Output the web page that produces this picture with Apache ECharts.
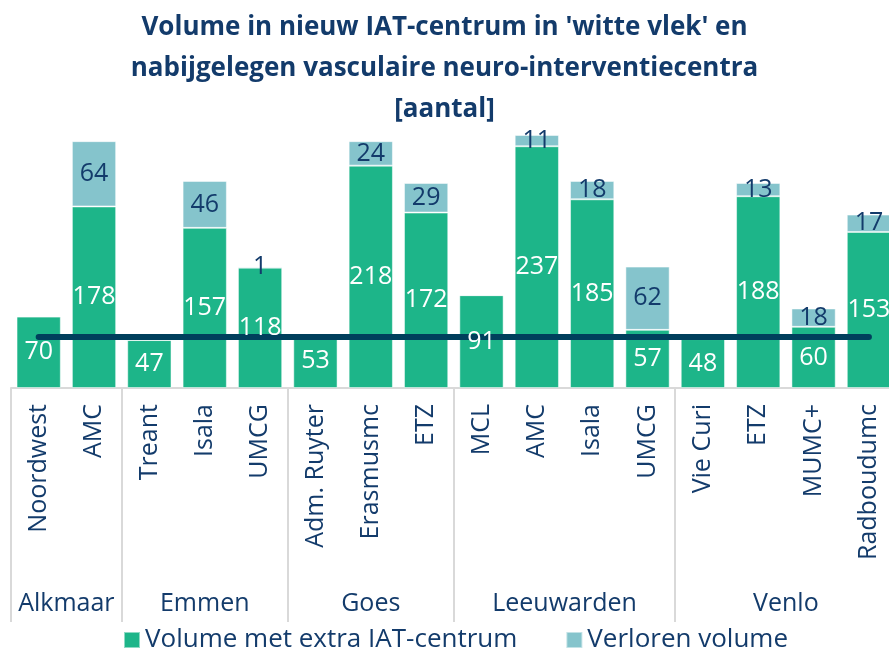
<!DOCTYPE html>
<html>
<head>
<meta charset="utf-8">
<script src="https://cdn.jsdelivr.net/npm/echarts@6/dist/echarts.min.js"></script>
<style>
  html, body { margin: 0; padding: 0; background: #fff; }
  #chart { width: 889px; height: 648px; }
</style>
</head>
<body>
<div id="chart"></div>
<script>
// ziekenhuizen per regio
var centra = ['Noordwest', 'AMC', 'Treant', 'Isala', 'UMCG', 'Adm. Ruyter', 'Erasmusmc', 'ETZ',
              'MCL', 'AMC', 'Isala', 'UMCG', 'Vie Curi', 'ETZ', 'MUMC+', 'Radboudumc'];
var regios = ['Alkmaar', 'Emmen', 'Goes', 'Leeuwarden', 'Venlo'];
var regioGrootte = [2, 3, 3, 4, 4];

var volumeExtra = [70, 178, 47, 157, 118, 53, 218, 172, 91, 237, 185, 57, 48, 188, 60, 153];
var verloren    = [0, 64, 0, 46, 1, 0, 24, 29, 0, 11, 18, 62, 0, 13, 18, 17];
var drempel = 50;

var navy = '#133b6b';
var font = 'Open Sans';

// begin-index van elke regio en middelpunt voor het label
var regioStart = [], regioMidden = {};
var pos = 0;
regios.forEach(function (r, i) {
    regioStart.push(pos);
    regioMidden[pos + regioGrootte[i] / 2] = r;
    pos += regioGrootte[i];
});

function nietNul(p) { return p.value ? p.value : ''; }

var chart = echarts.init(document.getElementById('chart'));

var option = {
    animation: false,
    title: {
        text: "Volume in nieuw IAT-centrum in 'witte vlek' en\nnabijgelegen vasculaire neuro-interventiecentra\n[aantal]",
        left: 'center',
        top: 2,
        textStyle: { fontFamily: font, fontSize: 26, fontWeight: 'bold', color: navy, lineHeight: 41 }
    },
    legend: {
        top: 622,
        left: 118,
        itemWidth: 16,
        itemHeight: 16,
        itemGap: 48,
        icon: 'rect',
        data: ['Volume met extra IAT-centrum', 'Verloren volume'],
        textStyle: { fontFamily: font, fontSize: 26, color: navy }
    },
    grid: { left: 11, top: 133, right: -7.6, bottom: 260, outerBoundsMode: 'none', containLabel: false },
    xAxis: [
        {
            type: 'category',
            data: centra,
            axisLine: { lineStyle: { color: '#d9d9d9', width: 2 } },
            axisTick: {
                show: true,
                length: 234,
                interval: function (idx) { return regioStart.indexOf(idx) >= 0; },
                lineStyle: { color: '#d9d9d9', width: 2 }
            },
            axisLabel: {
                rotate: 90,
                interval: 0,
                margin: 16,
                fontFamily: font,
                fontSize: 25,
                color: navy
            }
        },
        {
            type: 'value',
            position: 'bottom',
            min: 0,
            max: centra.length,
            interval: 0.5,
            axisLine: { show: false },
            axisTick: { show: false },
            splitLine: { show: false },
            axisLabel: {
                margin: 203,
                fontFamily: font,
                fontSize: 25,
                color: navy,
                showMinLabel: true,
                showMaxLabel: true,
                formatter: function (v) { return regioMidden[v] || ''; }
            }
        }
    ],
    yAxis: { type: 'value', min: 0, max: 250, show: false, splitLine: { show: false } },
    series: [
        {
            name: 'Volume met extra IAT-centrum',
            type: 'bar',
            stack: 'totaal',
            barCategoryGap: '20%',
            data: volumeExtra,
            z: 1,
            itemStyle: { color: '#1db589', borderColor: 'rgba(255,255,255,0.5)', borderWidth: 1 }
        },
        {
            name: 'Verloren volume',
            type: 'bar',
            stack: 'totaal',
            data: verloren,
            z: 1,
            itemStyle: { color: '#85c4cc', borderColor: 'rgba(255,255,255,0.5)', borderWidth: 1 }
        },
        {
            name: 'drempel',
            type: 'line',
            data: centra.map(function () { return drempel; }),
            symbol: 'none',
            z: 2,
            lineStyle: { color: '#003f5c', width: 6, cap: 'round' },
            silent: true
        },
        // labels boven de lijn: transparante kopie van de staven
        {
            name: 'label-volume',
            type: 'bar',
            stack: 'labels',
            barGap: '-100%',
            data: volumeExtra,
            z: 3,
            silent: true,
            itemStyle: { color: 'transparent' },
            label: {
                show: true, position: 'inside', fontFamily: font, fontSize: 25,
                color: '#fff', formatter: nietNul
            }
        },
        {
            name: 'label-verloren',
            type: 'bar',
            stack: 'labels',
            data: verloren,
            z: 3,
            silent: true,
            itemStyle: { color: 'transparent' },
            label: {
                show: true, position: 'inside', fontFamily: font, fontSize: 25,
                color: navy, formatter: nietNul
            }
        }
    ]
};

chart.setOption(option);
</script>
</body>
</html>
